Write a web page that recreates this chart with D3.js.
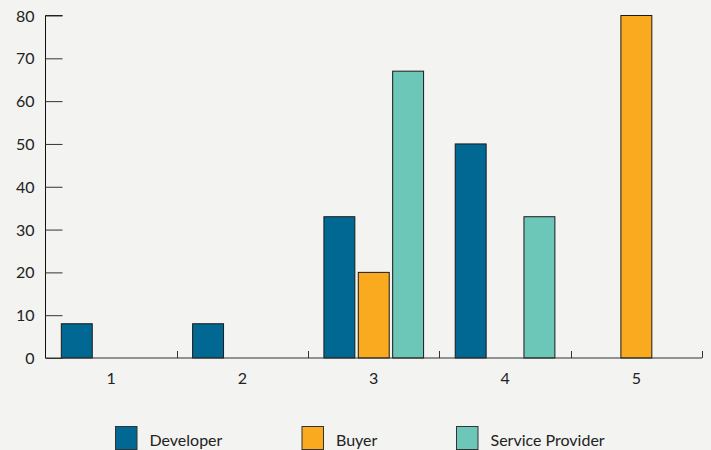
<!DOCTYPE html>
<html>
<head>
<meta charset="utf-8">
<script src="https://cdn.jsdelivr.net/npm/d3@7"></script>
<style>
  html, body { margin: 0; padding: 0; background: #f3f3f1; }
  svg { display: block; }
  text { font-family: Lato, "Open Sans", sans-serif; fill: #222; }
</style>
</head>
<body>
<svg id="chart" width="711" height="450"></svg>
<script>
// Response groups and the share of each role (percent)
const categories = ["1", "2", "3", "4", "5"];
const seriesNames = ["Developer", "Buyer", "Service Provider"];
const developer = [8, 8, 33, 50, 0];
const buyer = [0, 0, 20, 0, 80];
const serviceProvider = [0, 0, 67, 33, 0];
const yTicks = [0, 10, 20, 30, 40, 50, 60, 70, 80];
const colors = ["#006892", "#f9aa1f", "#6cc7b8"];

const seriesValues = [developer, buyer, serviceProvider];

const svg = d3.select("#chart");
const margin = { left: 45.5, right: 9, top: 15.5, bottom: 92 };
const W = 711, H = 450;

const x = d3.scaleBand().domain(categories)
  .range([margin.left, W - margin.right]).paddingInner(0).paddingOuter(0);
const xs = d3.scaleBand().domain(seriesNames)
  .range([0, x.bandwidth()]).paddingInner(0.1).paddingOuter(0.46);
const y = d3.scaleLinear().domain([0, 80]).range([H - margin.bottom, margin.top]);

// Bars (zero values are drawn as flat outlines on the baseline)
const g = svg.append("g");
categories.forEach((c, i) => {
  seriesNames.forEach((s, j) => {
    const v = seriesValues[j][i];
    g.append("rect")
      .attr("x", x(c) + xs(s))
      .attr("y", y(v))
      .attr("width", xs.bandwidth())
      .attr("height", y(0) - y(v))
      .attr("fill", colors[j])
      .attr("stroke", "#1a1a1a")
      .attr("stroke-width", 1);
  });
});

// Y axis: ticks point into the plot
const yAxis = d3.axisRight(y).tickValues(yTicks).tickSize(17).tickFormat(d3.format("d"));
const ya = svg.append("g").attr("transform", `translate(${margin.left},0)`).call(yAxis);
ya.select(".domain").attr("stroke", "#111").attr("d", `M17,${y(80)}H0V${y(0)}`);
ya.selectAll(".tick line").attr("stroke", "#333");
ya.selectAll(".tick text")
  .attr("x", -11).attr("text-anchor", "end").attr("dy", "0.35em")
  .style("font-size", "16px");

// X axis: short upward ticks at band boundaries
const xa = svg.append("g");
xa.append("line")
  .attr("x1", margin.left).attr("x2", W - margin.right)
  .attr("y1", y(0)).attr("y2", y(0))
  .attr("stroke", "#333").attr("stroke-width", 1.2);
categories.forEach(c => {
  const bx = Math.round(x(c) + x.bandwidth()) + 0.5;
  xa.append("line")
    .attr("x1", bx).attr("x2", bx)
    .attr("y1", y(0)).attr("y2", y(0) - 7)
    .attr("stroke", "#333");
  xa.append("text")
    .attr("x", x(c) + x.bandwidth() / 2)
    .attr("y", y(0) + 26)
    .attr("text-anchor", "middle")
    .style("font-size", "16px")
    .text(c);
});

// Legend
const legendX = [115.5, 302, 456.5];
const lg = svg.append("g");
seriesNames.forEach((s, j) => {
  lg.append("rect")
    .attr("x", legendX[j]).attr("y", 426.5)
    .attr("width", 21.5).attr("height", 23)
    .attr("fill", colors[j]).attr("stroke", "#333");
  lg.append("text")
    .attr("x", legendX[j] + 34).attr("y", 446)
    .style("font-size", "16px")
    .text(s);
});
</script>
</body>
</html>
